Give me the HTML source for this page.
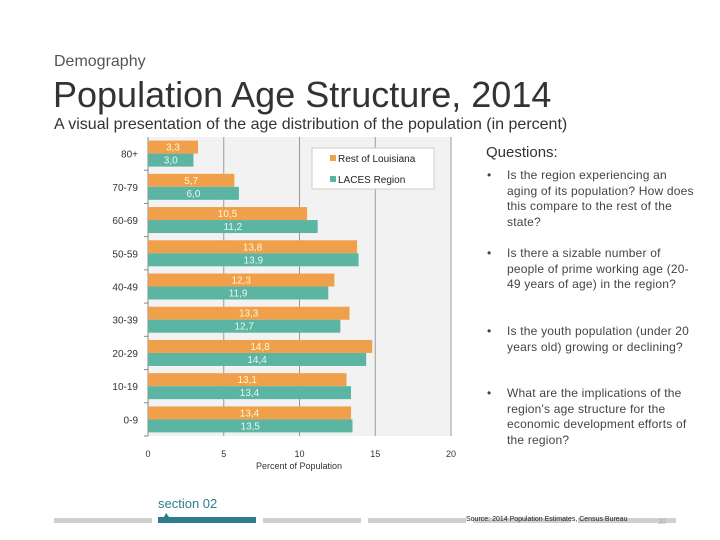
<!DOCTYPE html>
<html><head><meta charset="utf-8"><style>
body{margin:0;width:720px;height:540px;background:#fff;font-family:"Liberation Sans",sans-serif;overflow:hidden;position:relative}
.a{position:absolute;white-space:nowrap}
.q{position:absolute;left:487px;width:210px;font-size:12px;color:#444;line-height:15.5px;letter-spacing:0.2px}
.q span{position:absolute;left:20px;width:188px;white-space:normal}
</style></head><body>
<div class="a" style="left:54px;top:53px;font-size:16px;color:#555">Demography</div>
<div class="a" style="left:53px;top:74px;font-size:36px;color:#333">Population Age Structure, 2014</div>
<div class="a" style="left:54px;top:116px;font-size:16px;color:#333">A visual presentation of the age distribution of the population (in percent)</div>
<svg id="chart" width="720" height="540" style="position:absolute;left:0;top:0"></svg>
<div class="a" style="left:486px;top:144px;font-size:15px;color:#333">Questions:</div>
<div class="q" style="top:168px">•<span>Is the region experiencing an aging of its population? How does this compare to the rest of the state?</span></div>
<div class="q" style="top:246px">•<span>Is there a sizable number of people of prime working age (20-49 years of age) in the region?</span></div>
<div class="q" style="top:324px">•<span>Is the youth population (under 20 years old) growing or declining?</span></div>
<div class="q" style="top:386px">•<span>What are the implications of the region's age structure for the economic development efforts of the region?</span></div>
<div class="a" style="left:158px;top:496px;font-size:13px;color:#2e7d8c">section 02</div>
<div class="a" style="left:466px;top:516px;font-size:7px;color:#222">Source: 2014 Population Estimates, Census Bureau</div>
<div class="a" style="left:658px;top:519px;font-size:7px;color:#aaa">30</div>
<script>
const categories=["80+","70-79","60-69","50-59","40-49","30-39","20-29","10-19","0-9"];
const restLouisiana=[3.3,5.7,10.5,13.8,12.3,13.3,14.8,13.1,13.4];
const lacesRegion=[3.0,6.0,11.2,13.9,11.9,12.7,14.4,13.4,13.5];
const xTicks=[0,5,10,15,20];
const seriesNames=["Rest of Louisiana","LACES Region"];
const NS="http://www.w3.org/2000/svg";
const svg=document.getElementById('chart');
const x0=148,x1=451,yTop=137,yBot=436;
const xs=v=>x0+(v/20)*(x1-x0);
const rowH=(yBot-yTop)/categories.length;
function mk(t,a,p){const e=document.createElementNS(NS,t);for(const k in a)e.setAttribute(k,a[k]);(p||svg).appendChild(e);return e;}
let bg=mk('rect',{x:x0,y:yTop,width:x1-x0,height:yBot-yTop,fill:'#f2f2f2'});


xTicks.forEach(t=>{
 let g=mk('line',{x1:xs(t),x2:xs(t),y1:yTop,y2:yBot,stroke:'#999','stroke-width':1});
 
 
 let l=mk('text',{x:xs(t),y:yBot+21,'text-anchor':'middle','font-size':9,fill:'#333'});
 l.textContent=t;
 
 
});
let ax=mk('line',{x1:x0,x2:x0,y1:yTop,y2:yBot,stroke:'#888'});


const bh=13;
categories.forEach((c,i)=>{
 const yc=yTop+rowH*i+rowH/2;
 let tk=mk('line',{x1:x0-4,x2:x0,y1:yTop+rowH*(i+1),y2:yTop+rowH*(i+1),stroke:'#888'});
 
 
 let lb=mk('text',{x:x0-10,y:yc+4,'text-anchor':'end','font-size':10,fill:'#333'});
 lb.textContent=c;
 
 
 [[restLouisiana[i],'#f0a04b',yc-bh,'#fff7d0'],[lacesRegion[i],'#5bb5a2',yc,'#e8f6f2']].forEach((s,j)=>{
  let r=mk('rect',{x:x0,y:s[2],width:xs(s[0])-x0,height:bh,fill:s[1]});
  
  
  let v=mk('text',{x:(x0+xs(s[0]))/2,y:s[2]+10,'text-anchor':'middle','font-size':10,fill:s[3]});
  v.textContent=s[0].toFixed(1).replace('.',',');
  
  
 });
});
let xt=mk('text',{x:299,y:469,'text-anchor':'middle','font-size':9,fill:'#333'});
xt.textContent='Percent of Population';


let lg=mk('rect',{x:312,y:148,width:122,height:41,fill:'#fff',stroke:'#ccc'});


seriesNames.forEach((n,i)=>{
 let sw=mk('rect',{x:330,y:155+i*21,width:6,height:6,fill:i?'#5bb5a2':'#f0a04b'});
 
 
 let t=mk('text',{x:338,y:162+i*21,'font-size':10,fill:'#222'});
 t.textContent=n;
 
 
});
[54,158,263,368,473,578].forEach((sx,i)=>{
 let r=mk('rect',{x:sx,y:i==1?517:518,width:98,height:i==1?6:5,fill:i==1?'#2e7d8c':'#d0d0d0'});
 
 
});
let m=mk('path',{d:'M164 517 L166 513 L169 517 Z',fill:'#2e7d8c'});


</script>
</body></html>
